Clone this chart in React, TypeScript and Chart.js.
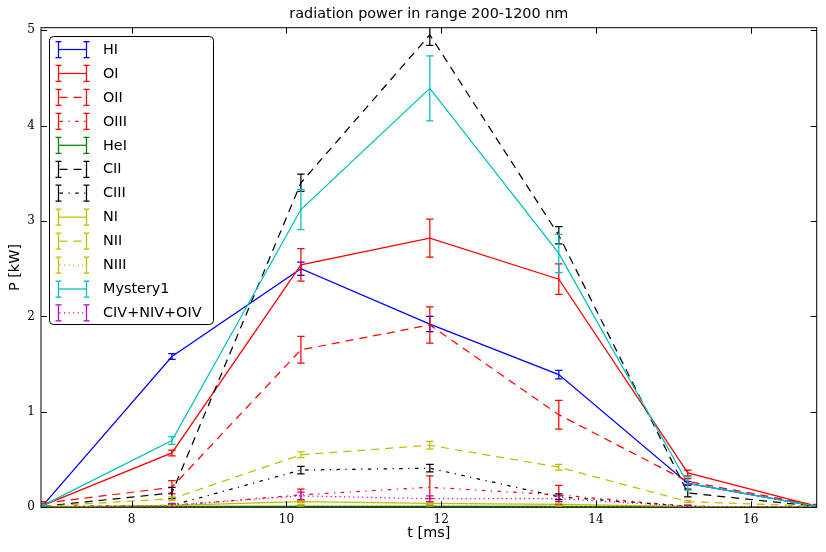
import React, { useEffect, useRef } from 'react';
import { Chart, registerables } from 'chart.js';

Chart.register(...registerables);

const TITLE = 'radiation power in range 200-1200 nm';
const X_LABEL = 't [ms]';
const Y_LABEL = 'P [kW]';

const times = [6.853, 8.52, 10.187, 11.853, 13.52, 15.187, 16.853];
const xTicks = [8, 10, 12, 14, 16];
const yTicks = [0, 1, 2, 3, 4, 5];
const X_MIN = 6.828;
const X_MAX = 16.853;
const Y_MIN = 0;
const Y_MAX = 5.025;

const seriesNames = ['HI', 'OI', 'OII', 'OIII', 'HeI', 'CII', 'CIII', 'NI', 'NII', 'NIII', 'Mystery1', 'CIV+NIV+OIV'];

const hI = [0.02, 1.58, 2.5, 1.92, 1.39, 0.25, 0.01];
const hIErr = [0.01, 0.03, 0.07, 0.08, 0.045, 0.02, 0.005];
const oI = [0.02, 0.57, 2.54, 2.82, 2.39, 0.36, 0.01];
const oIErr = [0.01, 0.03, 0.17, 0.2, 0.16, 0.03, 0.005];
const oII = [0.04, 0.21, 1.65, 1.91, 0.97, 0.27, 0.02];
const oIIErr = [0.02, 0.07, 0.14, 0.19, 0.15, 0.03, 0.01];
const oIII = [0.01, 0.02, 0.13, 0.21, 0.13, 0.01, 0.0];
const oIIIErr = [0.005, 0.01, 0.06, 0.12, 0.1, 0.01, 0.0];
const heI = [0.005, 0.01, 0.01, 0.01, 0.01, 0.005, 0.0];
const heIErr = [0.0, 0.005, 0.005, 0.005, 0.005, 0.0, 0.0];
const cII = [0.01, 0.15, 3.4, 4.95, 2.85, 0.15, 0.01];
const cIIErr = [0.005, 0.06, 0.09, 0.11, 0.09, 0.04, 0.005];
const cIII = [0.005, 0.02, 0.39, 0.41, 0.11, 0.01, 0.0];
const cIIIErr = [0.0, 0.01, 0.04, 0.04, 0.03, 0.01, 0.0];
const nI = [0.005, 0.02, 0.06, 0.04, 0.03, 0.01, 0.0];
const nIErr = [0.0, 0.005, 0.01, 0.01, 0.01, 0.005, 0.0];
const nII = [0.01, 0.09, 0.55, 0.65, 0.42, 0.06, 0.01];
const nIIErr = [0.005, 0.02, 0.03, 0.04, 0.03, 0.01, 0.005];
const nIII = [0.005, 0.01, 0.02, 0.02, 0.01, 0.005, 0.0];
const nIIIErr = [0.0, 0.005, 0.01, 0.01, 0.005, 0.0, 0.0];
const mystery1 = [0.02, 0.7, 3.12, 4.39, 2.66, 0.25, 0.01];
const mystery1Err = [0.01, 0.04, 0.21, 0.34, 0.2, 0.07, 0.005];
const cnoIV = [0.0, 0.02, 0.12, 0.09, 0.09, 0.01, 0.0];
const cnoIVErr = [0.0, 0.02, 0.04, 0.03, 0.03, 0.01, 0.0];

const seriesValues = [hI, oI, oII, oIII, heI, cII, cIII, nI, nII, nIII, mystery1, cnoIV];
const seriesErrors = [hIErr, oIErr, oIIErr, oIIIErr, heIErr, cIIErr, cIIIErr, nIErr, nIIErr, nIIIErr, mystery1Err, cnoIVErr];

const BLUE = '#0000ff';
const RED = '#ff0000';
const GREEN = '#008000';
const BLACK = '#000000';
const YELLOW = '#bfbf00';
const CYAN = '#00bfbf';
const MAGENTA = '#bf00bf';

const SOLID: number[] = [];
const DASHED = [8, 6];
const DASHDOT = [3.5, 5.5, 1.2, 5.5];
const DOTTED = [1.2, 3.3];

const seriesColors = [BLUE, RED, RED, RED, GREEN, BLACK, BLACK, YELLOW, YELLOW, YELLOW, CYAN, MAGENTA];
const seriesDashes = [SOLID, SOLID, DASHED, DASHDOT, SOLID, DASHED, DASHDOT, SOLID, DASHED, DOTTED, SOLID, DOTTED];

const LINE_W = 1.25;
const SANS = "'DejaVu Sans', sans-serif";
const SERIF = "'DejaVu Serif', serif";

const titlePlugin = {
  id: 'centeredTitle',
  afterDraw(chart: any) {
    const { ctx, chartArea } = chart;
    ctx.save();
    ctx.fillStyle = '#000';
    ctx.font = `14.4px ${SANS}`;
    ctx.textAlign = 'center';
    ctx.textBaseline = 'middle';
    ctx.fillText(TITLE, (chartArea.left + chartArea.right) / 2, 13.8);
    ctx.restore();
  },
};

const errorBarPlugin = {
  id: 'errorBars',
  afterDatasetsDraw(chart: any) {
    const { ctx, chartArea, scales } = chart;
    const x = scales.x;
    const y = scales.y;
    ctx.save();
    ctx.beginPath();
    ctx.rect(chartArea.left, chartArea.top, chartArea.right - chartArea.left, chartArea.bottom - chartArea.top);
    ctx.clip();
    chart.data.datasets.forEach((ds: any) => {
      const errs = ds.errors as number[];
      if (!errs) return;
      ctx.strokeStyle = ds.borderColor;
      ctx.lineWidth = LINE_W;
      ctx.setLineDash([]);
      ds.data.forEach((p: any, i: number) => {
        const e = errs[i];
        if (!e) return;
        const px = x.getPixelForValue(p.x);
        const y1 = y.getPixelForValue(p.y - e);
        const y2 = y.getPixelForValue(p.y + e);
        ctx.beginPath();
        ctx.moveTo(px, y1);
        ctx.lineTo(px, y2);
        ctx.moveTo(px - 3.7, y1);
        ctx.lineTo(px + 3.7, y1);
        ctx.moveTo(px - 3.7, y2);
        ctx.lineTo(px + 3.7, y2);
        ctx.stroke();
      });
    });
    ctx.restore();
  },
};

const framePlugin = {
  id: 'frame',
  afterDatasetsDraw(chart: any) {
    const { ctx, chartArea, scales } = chart;
    const { left, right, top, bottom } = chartArea;
    ctx.save();
    ctx.strokeStyle = '#000';
    ctx.lineWidth = 1;
    ctx.setLineDash([]);
    ctx.strokeRect(left, top, right - left, bottom - top);
    const len = 6;
    ctx.beginPath();
    scales.x.ticks.forEach((t: any) => {
      const px = Math.round(scales.x.getPixelForValue(t.value)) + 0.5;
      ctx.moveTo(px, bottom);
      ctx.lineTo(px, bottom - len);
      ctx.moveTo(px, top);
      ctx.lineTo(px, top + len);
    });
    scales.y.ticks.forEach((t: any) => {
      const py = Math.round(scales.y.getPixelForValue(t.value)) + 0.5;
      ctx.moveTo(left, py);
      ctx.lineTo(left + len, py);
      ctx.moveTo(right, py);
      ctx.lineTo(right - len, py);
    });
    ctx.stroke();
    ctx.restore();
  },
};

const legendPlugin = {
  id: 'mplLegend',
  afterDraw(chart: any) {
    const { ctx } = chart;
    const bx = 49.5;
    const by = 36.5;
    const bw = 164;
    const bh = 288;
    const r = 4;
    ctx.save();
    ctx.setLineDash([]);
    ctx.beginPath();
    ctx.moveTo(bx + r, by);
    ctx.lineTo(bx + bw - r, by);
    ctx.arcTo(bx + bw, by, bx + bw, by + r, r);
    ctx.lineTo(bx + bw, by + bh - r);
    ctx.arcTo(bx + bw, by + bh, bx + bw - r, by + bh, r);
    ctx.lineTo(bx + r, by + bh);
    ctx.arcTo(bx, by + bh, bx, by + bh - r, r);
    ctx.lineTo(bx, by + r);
    ctx.arcTo(bx, by, bx + r, by, r);
    ctx.closePath();
    ctx.fillStyle = '#fff';
    ctx.fill();
    ctx.strokeStyle = '#000';
    ctx.lineWidth = 1;
    ctx.stroke();

    const x1 = 58.5;
    const x2 = 86.5;
    const rowH = 23.95;
    chart.data.datasets.forEach((ds: any, i: number) => {
      const cy = 49.5 + i * rowH;
      ctx.strokeStyle = ds.borderColor;
      ctx.lineWidth = LINE_W;
      const dash = ds.borderDash || [];
      ctx.setLineDash(dash);
      ctx.lineDashOffset = dash.length ? -1 : 0;
      ctx.beginPath();
      ctx.moveTo(x1, cy);
      ctx.lineTo(x2, cy);
      ctx.stroke();
      ctx.setLineDash([]);
      ctx.lineDashOffset = 0;
      ctx.beginPath();
      [x1, x2].forEach((xx) => {
        ctx.moveTo(xx, cy - 8);
        ctx.lineTo(xx, cy + 8);
        ctx.moveTo(xx - 3, cy - 8);
        ctx.lineTo(xx + 3, cy - 8);
        ctx.moveTo(xx - 3, cy + 8);
        ctx.lineTo(xx + 3, cy + 8);
      });
      ctx.stroke();
      ctx.fillStyle = '#000';
      ctx.font = `14.4px ${SANS}`;
      ctx.textBaseline = 'middle';
      ctx.textAlign = 'left';
      ctx.fillText(ds.label, 103, cy + 0.5);
    });
    ctx.restore();
  },
};

export default function App() {
  const canvasRef = useRef<HTMLCanvasElement | null>(null);

  useEffect(() => {
    const canvas = canvasRef.current;
    if (!canvas) return;
    const datasets = seriesNames.map((name, i) => ({
      label: name,
      data: times.map((t, j) => ({ x: t, y: seriesValues[i][j] })),
      errors: seriesErrors[i],
      borderColor: seriesColors[i],
      backgroundColor: seriesColors[i],
      borderDash: seriesDashes[i],
      borderWidth: LINE_W,
      pointRadius: 0,
      pointHoverRadius: 0,
      tension: 0,
      fill: false,
      order: -i,
    }));

    const chart = new Chart(canvas, {
      type: 'line',
      data: { datasets } as any,
      options: {
        animation: false,
        responsive: false,
        maintainAspectRatio: false,
        events: [],
        layout: { padding: { left: 0, right: 9.3, top: 27.7, bottom: 0 } },
        plugins: {
          legend: { display: false },
          tooltip: { enabled: false },
          title: { display: false },
        },
        scales: {
          x: {
            type: 'linear',
            min: X_MIN,
            max: X_MAX,
            grid: { display: false, drawTicks: false },
            border: { display: false },
            ticks: {
              color: '#000',
              font: { family: SERIF, size: 12 },
              padding: 5,
              maxRotation: 0,
              includeBounds: false,
              callback: (v: any) => String(v),
            },
            afterBuildTicks: (scale: any) => {
              scale.ticks = xTicks.map((v) => ({ value: v }));
            },
            afterFit: (scale: any) => {
              scale.height = 44.7;
            },
            title: {
              display: true,
              text: X_LABEL,
              color: '#000',
              font: { family: SANS, size: 14.4, weight: 'normal', lineHeight: 1.2 },
              padding: { top: 0, bottom: 9.66 },
            },
          },
          y: {
            type: 'linear',
            min: Y_MIN,
            max: Y_MAX,
            grid: { display: false, drawTicks: false },
            border: { display: false },
            ticks: {
              color: '#000',
              font: { family: SERIF, size: 12 },
              padding: 6,
              includeBounds: false,
              callback: (v: any) => String(v),
            },
            afterBuildTicks: (scale: any) => {
              scale.ticks = yTicks.map((v) => ({ value: v }));
            },
            afterFit: (scale: any) => {
              scale.width = 41;
            },
            title: {
              display: true,
              text: Y_LABEL,
              color: '#000',
              font: { family: SANS, size: 14.4, weight: 'normal', lineHeight: 1.2 },
              padding: { top: 6.4, bottom: 0 },
            },
          },
        },
      } as any,
      plugins: [errorBarPlugin, framePlugin, titlePlugin, legendPlugin],
    });
    return () => chart.destroy();
  }, []);

  return (
    <div style={{ position: 'fixed', left: 0, top: 0, width: 826, height: 552, background: '#fff' }}>
      <canvas ref={canvasRef} width={826} height={552} style={{ width: 826, height: 552, display: 'block' }} />
    </div>
  );
}
